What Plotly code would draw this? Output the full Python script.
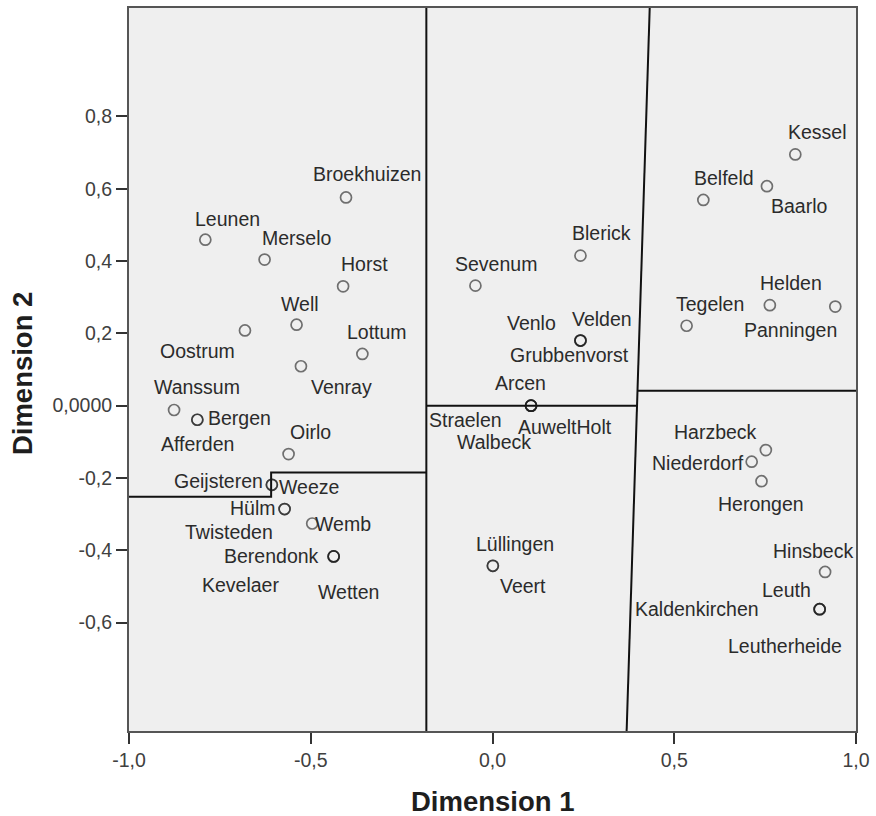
import plotly.graph_objects as go

# MDS configuration: place names and their coordinates on the two dimensions
places = [
    "Broekhuizen", "Leunen", "Merselo", "Horst", "Well", "Oostrum", "Lottum",
    "Venray", "Wanssum", "Bergen", "Afferden", "Oirlo", "Geijsteren", "Weeze",
    "Hülm", "Twisteden", "Wemb", "Berendonk", "Kevelaer", "Wetten",
    "Sevenum", "Blerick", "Venlo", "Velden", "Grubbenvorst", "Arcen",
    "Straelen", "AuweltHolt", "Walbeck", "Lüllingen", "Veert",
    "Kessel", "Baarlo", "Belfeld", "Helden", "Panningen", "Tegelen",
    "Harzbeck", "Niederdorf", "Herongen", "Hinsbeck", "Leuth",
    "Kaldenkirchen", "Leutherheide",
]
dim1 = [
    -0.403, -0.790, -0.627, -0.411, -0.539, -0.681, -0.358,
    -0.527, -0.876, -0.812, -0.812, -0.561, -0.607, -0.607,
    -0.572, -0.572, -0.496, -0.437, -0.437, -0.437,
    -0.047, 0.242, 0.242, 0.242, 0.242, 0.106,
    0.106, 0.106, 0.106, 0.001, 0.001,
    0.833, 0.755, 0.580, 0.763, 0.943, 0.534,
    0.752, 0.713, 0.740, 0.915, 0.900,
    0.900, 0.900,
]
dim2 = [
    0.576, 0.459, 0.404, 0.330, 0.224, 0.208, 0.143,
    0.109, -0.012, -0.039, -0.039, -0.134, -0.219, -0.219,
    -0.286, -0.286, -0.326, -0.417, -0.417, -0.417,
    0.332, 0.415, 0.180, 0.180, 0.180, 0.000,
    0.000, 0.000, 0.000, -0.443, -0.443,
    0.695, 0.607, 0.569, 0.278, 0.274, 0.221,
    -0.123, -0.155, -0.209, -0.460, -0.563,
    -0.563, -0.563,
]

# Region boundaries drawn over the configuration (polylines in data units)
west_x = [-0.182, -0.182]
west_y = [-0.9, 1.1]
southwest_x = [-1.0, -0.609, -0.609, -0.182]
southwest_y = [-0.252, -0.252, -0.185, -0.185]
centre_x = [-0.182, 0.398]
centre_y = [0.0, 0.0]
east_x = [0.4325, 0.3995, 0.369]
east_y = [1.1, 0.0415, -0.9]
northeast_x = [0.3995, 1.0]
northeast_y = [0.0415, 0.0415]

x_ticks = [-1.0, -0.5, 0.0, 0.5, 1.0]
x_ticktext = ["-1,0", "-0,5", "0,0", "0,5", "1,0"]
y_ticks = [-0.6, -0.4, -0.2, 0.0, 0.2, 0.4, 0.6, 0.8]
y_ticktext = ["-0,6", "-0,4", "-0,2", "0,0000", "0,2", "0,4", "0,6", "0,8"]

# Label placement relative to each point, in screen pixels (right, down)
label_offset = {
    "Broekhuizen": (21, -23), "Leunen": (22, -21), "Merselo": (32, -22),
    "Horst": (21, -22), "Well": (3, -21), "Oostrum": (-47, 21),
    "Lottum": (15, -22), "Venray": (41, 21), "Wanssum": (23, -23),
    "Bergen": (42, -2), "Afferden": (0, 24), "Oirlo": (22, -22),
    "Geijsteren": (-53, -4), "Weeze": (37, 2), "Hülm": (-32, -1),
    "Twisteden": (-56, 23), "Wemb": (31, 0), "Berendonk": (-62, 0),
    "Kevelaer": (-93, 29), "Wetten": (15, 36), "Sevenum": (21, -22),
    "Blerick": (21, -23), "Venlo": (-49, -18), "Velden": (22, -22),
    "Grubbenvorst": (-11, 14), "Arcen": (-11, -23), "Straelen": (-66, 14),
    "AuweltHolt": (34, 21), "Walbeck": (-37, 36), "Lüllingen": (22, -22),
    "Veert": (30, 20), "Kessel": (22, -22), "Baarlo": (33, 20),
    "Belfeld": (21, -22), "Helden": (21, -22), "Panningen": (-45, 23),
    "Tegelen": (23, -22), "Harzbeck": (-50, -18), "Niederdorf": (-54, 1),
    "Herongen": (0, 23), "Hinsbeck": (-12, -21), "Leuth": (-33, -19),
    "Kaldenkirchen": (-123, 0), "Leutherheide": (-35, 37),
}

FONT = "Liberation Sans, Arial, sans-serif"
LINE = dict(color="#111111", width=2)

fig = go.Figure()

for bx, by in [(west_x, west_y), (southwest_x, southwest_y),
               (centre_x, centre_y), (east_x, east_y),
               (northeast_x, northeast_y)]:
    fig.add_trace(go.Scatter(x=bx, y=by, mode="lines", line=LINE,
                             hoverinfo="skip", showlegend=False,
                             cliponaxis=True))

# one open circle per place; coincident places stack into a darker ring
fig.add_trace(go.Scatter(
    x=dim1, y=dim2, mode="markers", text=places, showlegend=False,
    marker=dict(symbol="circle-open", size=11,
                color="rgba(25,25,25,0.6)", line=dict(width=1.7)),
    hovertemplate="%{text}<br>%{x:.3f}, %{y:.3f}<extra></extra>",
))

annotations = []
for name, px, py in zip(places, dim1, dim2):
    dx, dy = label_offset[name]
    annotations.append(dict(
        x=px, y=py, xref="x", yref="y", text=name, showarrow=False,
        xanchor="center", yanchor="middle", xshift=dx, yshift=-dy,
        font=dict(family=FONT, size=19.5, color="#2b2b2b"),
    ))

annotations.append(dict(
    text="<b>Dimension 1</b>", xref="paper", yref="paper", x=0.5, y=0,
    xanchor="center", yanchor="middle", yshift=-70, showarrow=False,
    font=dict(family=FONT, size=27.5, color="#1e1e1e"),
))
annotations.append(dict(
    text="<b>Dimension 2</b>", xref="paper", yref="paper", x=0, y=0.495,
    xanchor="center", yanchor="middle", xshift=-107, textangle=-90,
    showarrow=False, font=dict(family=FONT, size=27.5, color="#1e1e1e"),
))

axis_common = dict(
    showgrid=False, zeroline=False, showline=True, linecolor="#555555",
    linewidth=2, mirror=True, ticks="outside", ticklen=11, tickwidth=2,
    tickcolor="#333333", tickfont=dict(family=FONT, size=19.5, color="#404040"),
)

fig.update_layout(
    width=876, height=816,
    margin=dict(l=129, r=20, t=6, b=85),
    paper_bgcolor="white", plot_bgcolor="#efefef",
    xaxis=dict(range=[-1.0, 1.0], tickvals=x_ticks, ticktext=x_ticktext,
               **axis_common),
    yaxis=dict(range=[-0.9, 1.1], tickvals=y_ticks, ticktext=y_ticktext,
               **axis_common),
    annotations=annotations,
)

fig.write_html("out.html")
